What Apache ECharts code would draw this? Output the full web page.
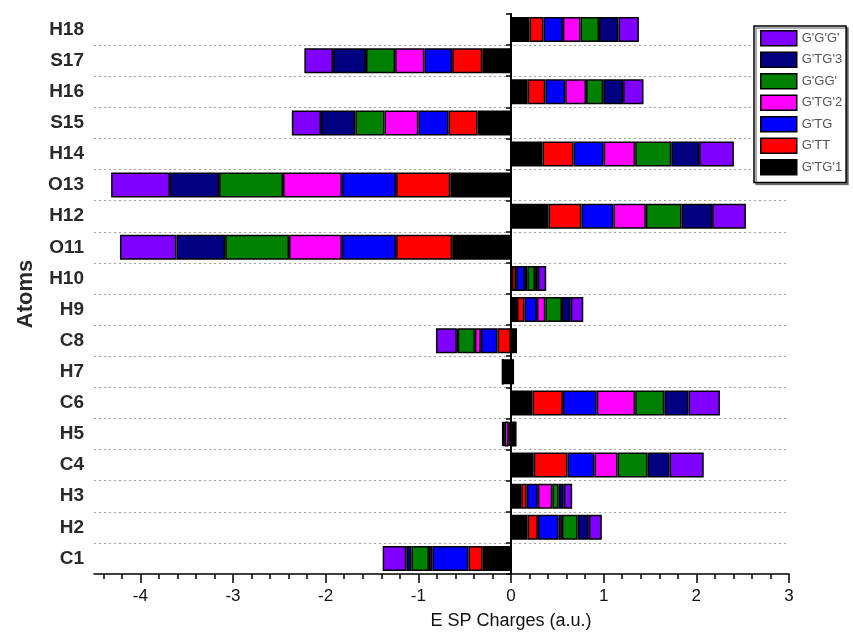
<!DOCTYPE html>
<html>
<head>
<meta charset="utf-8">
<script src="https://cdn.jsdelivr.net/npm/echarts@6/dist/echarts.min.js"></script>
<style>
  html, body { margin: 0; padding: 0; background: #ffffff; }
  #chart { width: 853px; height: 637px; }
</style>
</head>
<body>
<div id="chart"></div>
<script>
// Atom labels, bottom to top
const atoms = ['C1', 'H2', 'H3', 'C4', 'H5', 'C6', 'H7', 'C8', 'H9', 'H10',
               'O11', 'H12', 'O13', 'H14', 'S15', 'H16', 'S17', 'H18'];

// ESP charges (a.u.) per conformer, same order as atoms
const gtg1 = [-0.305, 0.18, 0.11, 0.245, 0.06, 0.23, -0.09, 0.065, 0.065, 0.01,
              -0.635, 0.405, -0.655, 0.34, -0.36, 0.18, -0.31, 0.20];
const gtt  = [-0.155, 0.11, 0.06, 0.365, -0.015, 0.33, 0, -0.145, 0.08, 0.045,
              -0.605, 0.355, -0.585, 0.335, -0.315, 0.19, -0.325, 0.15];
const gtg  = [-0.39, 0.225, 0.12, 0.29, -0.01, 0.365, 0, -0.18, 0.135, 0.095,
              -0.585, 0.345, -0.585, 0.325, -0.325, 0.215, -0.30, 0.21];
const gtg2 = [-0.035, 0.035, 0.155, 0.25, -0.045, 0.415, 0, -0.065, 0.09, 0.025,
              -0.57, 0.35, -0.635, 0.34, -0.365, 0.225, -0.315, 0.19];
const ggg1 = [-0.19, 0.17, 0.07, 0.325, -0.01, 0.315, 0, -0.185, 0.18, 0.085,
              -0.69, 0.385, -0.69, 0.39, -0.315, 0.185, -0.315, 0.20];
const gtg3 = [-0.055, 0.12, 0.055, 0.235, -0.005, 0.26, 0.025, -0.01, 0.095, 0.03,
              -0.525, 0.33, -0.53, 0.30, -0.37, 0.215, -0.355, 0.21];
const gggp = [-0.255, 0.14, 0.09, 0.37, -0.01, 0.34, 0, -0.225, 0.135, 0.09,
              -0.61, 0.365, -0.635, 0.375, -0.315, 0.22, -0.31, 0.22];

// Stack order from the zero line outwards
const conformers = [
  { name: "G'TG'1", color: '#000000', data: gtg1 },
  { name: "G'TT",   color: '#ff0000', data: gtt },
  { name: "G'TG",   color: '#0000ff', data: gtg },
  { name: "G'TG'2", color: '#ff00ff', data: gtg2 },
  { name: "G'GG'",  color: '#008000', data: ggg1 },
  { name: "G'TG'3", color: '#000080', data: gtg3 },
  { name: "G'G'G'", color: '#8000ff', data: gggp }
];

// Charge axis ticks
const xMajorTicks = [-4, -3, -2, -1, 0, 1, 2, 3];
const xMinorTicks = [];
for (let i = -22; i <= 14; i++) {
  if (i % 5 !== 0) xMinorTicks.push(+(i * 0.2).toFixed(1));
}

const labelFont = "'Liberation Sans', Arial, sans-serif";
const narrowFont = "'Liberation Sans Narrow', 'Arial Narrow', 'Liberation Sans', Arial, sans-serif";

const chart = echarts.init(document.getElementById('chart'), null, { renderer: 'canvas' });

chart.setOption({
  animation: false,
  backgroundColor: '#ffffff',
  grid: { left: 94, right: 64, top: 14, bottom: 63, containLabel: false },
  legend: {
    orient: 'vertical',
    left: 754,
    top: 26,
    data: conformers.map(c => c.name).reverse(),
    icon: 'rect',
    itemWidth: 36,
    itemHeight: 15,
    itemGap: 5,
    padding: [4, 4, 7, 6],
    borderColor: '#000',
    borderWidth: 1.5,
    backgroundColor: '#fff',
    shadowColor: 'rgba(0,0,0,0.45)',
    shadowOffsetX: 2,
    shadowOffsetY: 2,
    shadowBlur: 0,
    selectedMode: false,
    itemStyle: { borderColor: '#000', borderWidth: 1.5 },
    textStyle: { fontFamily: labelFont, fontSize: 13, color: '#555' }
  },
  xAxis: [
    {
      type: 'value',
      min: -4.5,
      max: 3,
      position: 'bottom',
      axisLine: { show: true, onZero: false, lineStyle: { color: '#000', width: 1.5 } },
      axisTick: { show: true, customValues: xMajorTicks, length: 9, lineStyle: { color: '#000', width: 1.5 } },
      axisLabel: { customValues: xMajorTicks, margin: 14, fontFamily: narrowFont, fontSize: 17, color: '#111' },
      splitLine: { show: false },
      name: 'E SP Charges (a.u.)',
      nameLocation: 'middle',
      nameGap: 38,
      nameTextStyle: { fontFamily: narrowFont, fontSize: 18, color: '#111', padding: [0, 0, 0, 139] }
    },
    {
      type: 'value',
      min: -4.5,
      max: 3,
      position: 'bottom',
      axisLine: { show: false },
      axisTick: { show: true, customValues: xMinorTicks, length: 5, lineStyle: { color: '#000', width: 1.5 } },
      axisLabel: { show: false },
      splitLine: { show: false }
    }
  ],
  yAxis: [
    {
      type: 'category',
      data: atoms,
      axisLine: { show: false, onZero: false },
      axisTick: { show: false },
      axisLabel: { interval: 0, margin: 10, fontFamily: labelFont, fontSize: 19, fontWeight: 'bold', color: '#2a2a2a' },
      splitLine: {
        show: true,
        interval: 0,
        showMinLine: false,
        showMaxLine: false,
        lineStyle: { color: '#a0a0a0', width: 1, type: [2, 3] }
      },
      name: 'Atoms',
      nameLocation: 'middle',
      nameGap: 56,
      nameTextStyle: { fontFamily: labelFont, fontSize: 22, fontWeight: 'bold', color: '#2a2a2a' }
    },
    {
      type: 'category',
      data: atoms,
      position: 'left',
      axisLine: { show: true, onZero: true, lineStyle: { color: '#000', width: 2 } },
      axisTick: { show: true, interval: 0, length: 5, lineStyle: { color: '#000', width: 1.5 } },
      axisLabel: { show: false },
      splitLine: { show: false }
    }
  ],
  series: conformers.map(c => ({
    type: 'bar',
    name: c.name,
    data: c.data,
    stack: 'esp',
    xAxisIndex: 0,
    yAxisIndex: 0,
    barWidth: 25,
    itemStyle: { color: c.color, borderColor: '#000', borderWidth: 1.5 },
    emphasis: { disabled: true }
  }))
});
</script>
</body>
</html>
